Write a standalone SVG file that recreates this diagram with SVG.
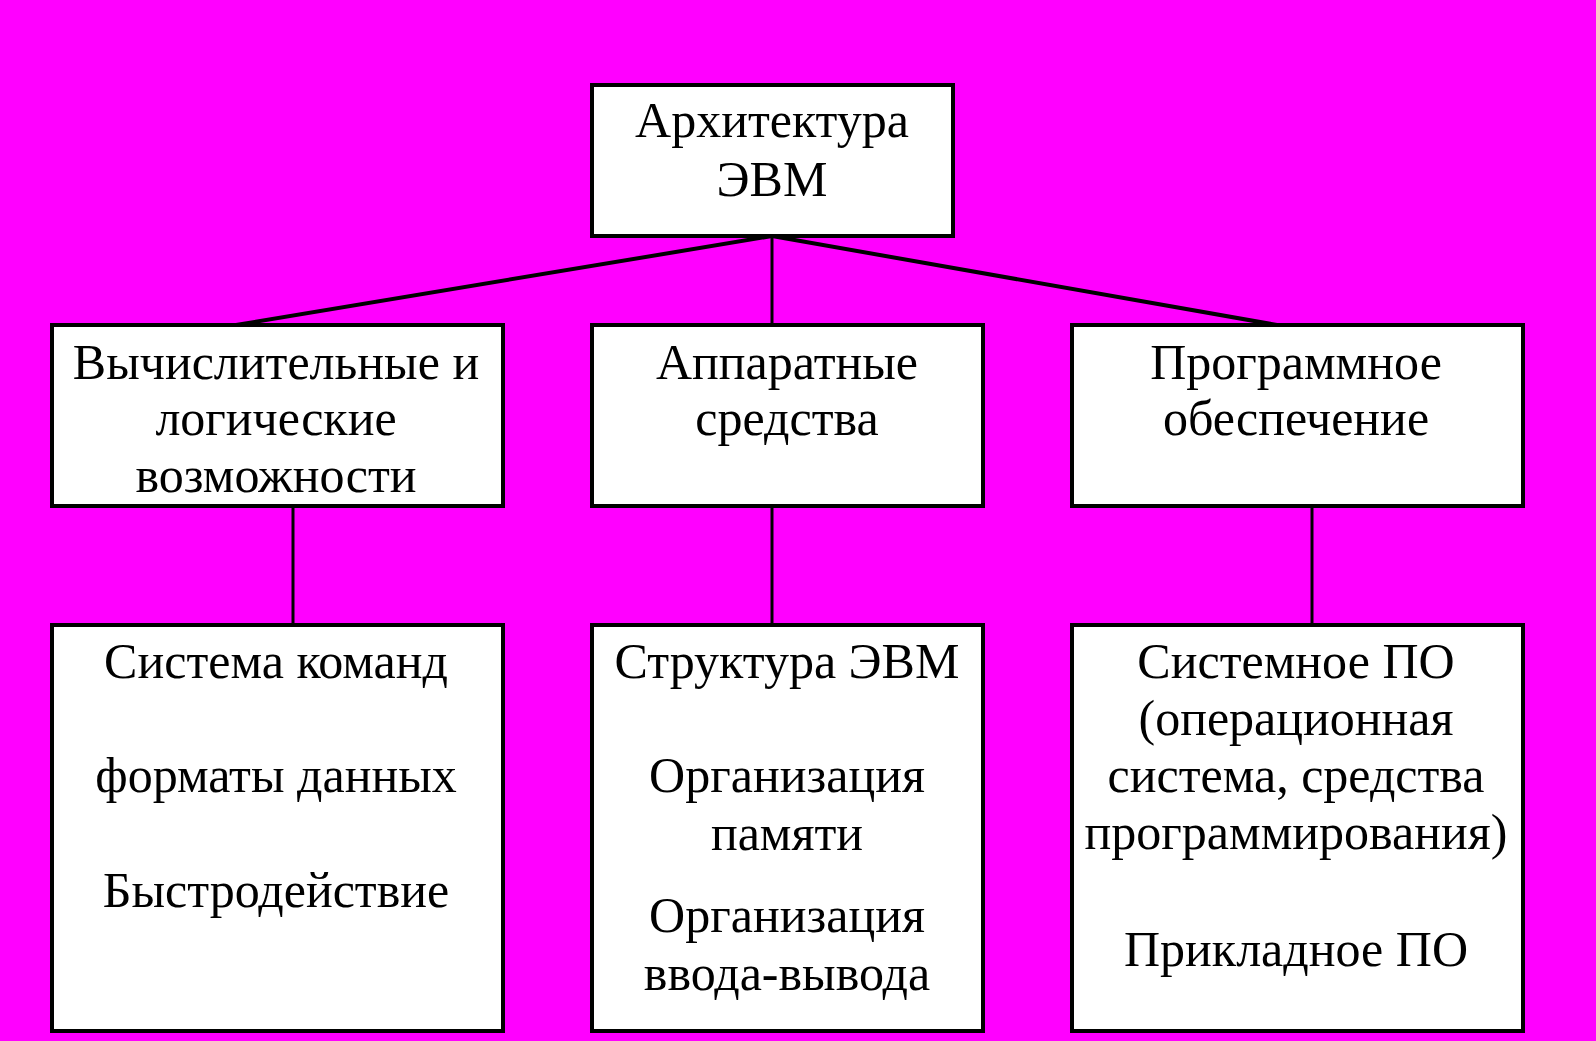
<svg xmlns="http://www.w3.org/2000/svg" width="1596" height="1041" viewBox="0 0 1596 1041">
<style>
.box{fill:#ffffff;stroke:#000000;stroke-width:4}
.ln{stroke:#000000;fill:none}
text{font-family:"Liberation Serif","Times New Roman",serif;font-size:50px;fill:#000000;text-anchor:middle}
</style>
<rect x="0" y="0" width="1596" height="1041" fill="#ff00ff"/>
<g id="connectors">
<line class="ln" x1="772" y1="236" x2="236" y2="325" stroke-width="4"/>
<line class="ln" x1="772" y1="236" x2="772" y2="325" stroke-width="3"/>
<line class="ln" x1="772" y1="236" x2="1277" y2="325" stroke-width="4"/>
<line class="ln" x1="293" y1="506" x2="293" y2="625" stroke-width="3"/>
<line class="ln" x1="772" y1="506" x2="772" y2="625" stroke-width="3"/>
<line class="ln" x1="1312" y1="506" x2="1312" y2="625" stroke-width="3"/>
</g>
<g id="root">
<rect class="box" x="592" y="85" width="361" height="151"/>
<text x="772" y="137">Архитектура</text>
<text x="772" y="196">ЭВМ</text>
</g>
<g id="computing">
<rect class="box" x="52" y="325" width="451" height="181"/>
<text x="276" y="379">Вычислительные и</text>
<text x="276" y="435">логические</text>
<text x="276" y="492">возможности</text>
</g>
<g id="hardware">
<rect class="box" x="592" y="325" width="391" height="181"/>
<text x="787" y="379">Аппаратные</text>
<text x="787" y="435">средства</text>
</g>
<g id="software">
<rect class="box" x="1072" y="325" width="451" height="181"/>
<text x="1296" y="379">Программное</text>
<text x="1296" y="435">обеспечение</text>
</g>
<g id="computing-details">
<rect class="box" x="52" y="625" width="451" height="406"/>
<text x="276" y="678">Система команд</text>
<text x="276" y="792">форматы данных</text>
<text x="276" y="907">Быстродействие</text>
</g>
<g id="hardware-details">
<rect class="box" x="592" y="625" width="391" height="406"/>
<text x="787" y="678">Структура ЭВМ</text>
<text x="787" y="792">Организация</text>
<text x="787" y="850">памяти</text>
<text x="787" y="932">Организация</text>
<text x="787" y="990">ввода-вывода</text>
</g>
<g id="software-details">
<rect class="box" x="1072" y="625" width="451" height="406"/>
<text x="1296" y="678">Системное ПО</text>
<text x="1296" y="735">(операционная</text>
<text x="1296" y="792">система, средства</text>
<text x="1296" y="849">программирования)</text>
<text x="1296" y="966">Прикладное ПО</text>
</g>
</svg>
